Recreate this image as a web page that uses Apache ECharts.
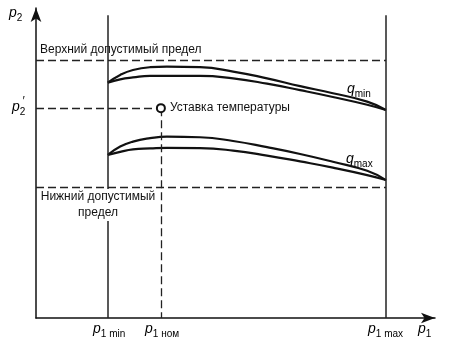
<!DOCTYPE html>
<html><head><meta charset="utf-8">
<script src="https://cdn.jsdelivr.net/npm/echarts@6/dist/echarts.min.js"></script>
<style>html,body{margin:0;padding:0;background:#fff}#c{width:463px;height:354px}</style>
</head><body><div id="c"></div>
<script>
// p1 sample positions along the curves (arbitrary units, 0..100)
const curveX   = [18.0, 21.1, 24.3, 28.6, 32.8, 41.1, 49.4, 57.9, 66.2, 74.4, 83.0, 87.7];
// q_min pair (upper lens)
const qMinHigh = [75.9, 78.4, 80.0, 80.9, 81.1, 80.9, 79.5, 77.3, 74.8, 72.5, 69.8, 67.1];
const qMinLow  = [75.9, 77.0, 77.6, 78.1, 78.1, 78.1, 77.3, 75.6, 73.5, 71.3, 68.8, 67.1];
// q_max pair (lower lens)
const qMaxHigh = [52.6, 55.3, 56.9, 58.0, 58.5, 58.3, 57.1, 55.1, 52.9, 50.4, 47.5, 44.5];
const qMaxLow  = [52.6, 53.6, 54.4, 54.7, 54.9, 54.8, 54.0, 52.4, 50.5, 48.5, 46.1, 44.5];
// characteristic values
const p1Min = 18.0, p1Nom = 31.3, p1Max = 87.7;
const p2Upper = 83.2, p2Set = 67.7, p2Lower = 42.3;
const verticalTop = 97.7;

const F = '"Liberation Sans", Arial, sans-serif';
const pair = ys => curveX.map((x, i) => [x, ys[i]]);
const curve = (name, ys) => ({
  name, type: 'line', data: pair(ys), smooth: 0.5, showSymbol: false, silent: true,
  lineStyle: { color: '#111', width: 2.2 }, z: 3
});
const dash = { color: '#222', width: 1.3, type: [8, 4] };
const solid = { color: '#222', width: 1.5, type: 'solid' };
const seg = (a, b, ls) => [{ coord: a, lineStyle: ls }, { coord: b }];

const chart = echarts.init(document.getElementById('c'), null, { renderer: 'canvas' });
const sub = { fontSize: 10, fontFamily: F, fontStyle: 'normal', verticalAlign: 'bottom', padding: [0, 0, -3, 0], color: '#111' };
const ip = { fontSize: 14, fontFamily: F, fontStyle: 'italic', color: '#111' };
chart.setOption({
  animation: false,
  backgroundColor: '#fff',
  grid: { left: 36, right: 28, top: 8, bottom: 36 },
  xAxis: {
    type: 'value', min: 0, max: 100,
    axisLine: { symbol: ['none', 'arrow'], symbolSize: [8, 14], lineStyle: { color: '#111', width: 1.5 } },
    axisTick: { show: false }, splitLine: { show: false }, axisLabel: { show: false }
  },
  yAxis: {
    type: 'value', min: 0, max: 100,
    axisLine: { symbol: ['none', 'arrow'], symbolSize: [8, 14], lineStyle: { color: '#111', width: 1.5 } },
    axisTick: { show: false }, splitLine: { show: false }, axisLabel: { show: false }
  },
  series: [
    Object.assign(curve('qminHigh', qMinHigh), {
      markLine: {
        silent: true, symbol: ['none', 'none'], label: { show: false },
        data: [
          seg([0, p2Upper], [p1Max, p2Upper], dash),
          seg([0, p2Lower], [p1Max, p2Lower], dash),
          seg([0, p2Set], [p1Nom, p2Set], dash),
          seg([p1Nom, p2Set], [p1Nom, 0], dash),
          seg([p1Min, 0], [p1Min, verticalTop], solid),
          seg([p1Max, 0], [p1Max, verticalTop], solid)
        ]
      }
    }),
    curve('qminLow', qMinLow),
    curve('qmaxHigh', qMaxHigh),
    curve('qmaxLow', qMaxLow),
    {
      type: 'scatter', data: [[p1Nom, p2Set]], symbol: 'circle', symbolSize: 8, z: 6, silent: true,
      itemStyle: { color: '#fff', borderColor: '#111', borderWidth: 2, opacity: 1 },
      label: { show: true, position: 'right', distance: 4, formatter: 'Уставка температуры',
        color: '#111', fontSize: 12, fontFamily: F }
    }
  ],
  graphic: [
    { type: 'text', x: 40, y: 44, style: { text: 'Верхний допустимый предел', font: '12px ' + F, fill: '#111' } },
    { type: 'text', x: 98, y: 189, z: 10, style: { text: 'Нижний допустимый\nпредел', font: '12px ' + F, fill: '#111', align: 'center', lineHeight: 16, backgroundColor: '#fff', padding: [0, 2, 0, 2] } },
    { type: 'text', x: 347, y: 82, style: { text: '{i|q}{s|min}', rich: { i: ip, s: sub } } },
    { type: 'text', x: 346, y: 152, style: { text: '{i|q}{s|max}', rich: { i: ip, s: sub } } },
    { type: 'text', x: 9, y: 6, style: { text: '{i|p}{s|2}', rich: { i: ip, s: sub } } },
    { type: 'text', x: 12, y: 100, style: { text: '{i|p}{s|2}', rich: { i: ip, s: sub } } },
    { type: 'text', x: 22, y: 96, style: { text: '′', font: 'italic 12px ' + F, fill: '#111' } },
    { type: 'text', x: 93, y: 322, style: { text: '{i|p}{s|1 min}', rich: { i: ip, s: sub } } },
    { type: 'text', x: 145, y: 322, style: { text: '{i|p}{s|1 ном}', rich: { i: ip, s: sub } } },
    { type: 'text', x: 368, y: 322, style: { text: '{i|p}{s|1 max}', rich: { i: ip, s: sub } } },
    { type: 'text', x: 418, y: 322, style: { text: '{i|p}{s|1}', rich: { i: ip, s: sub } } }
  ]
});
</script></body></html>
